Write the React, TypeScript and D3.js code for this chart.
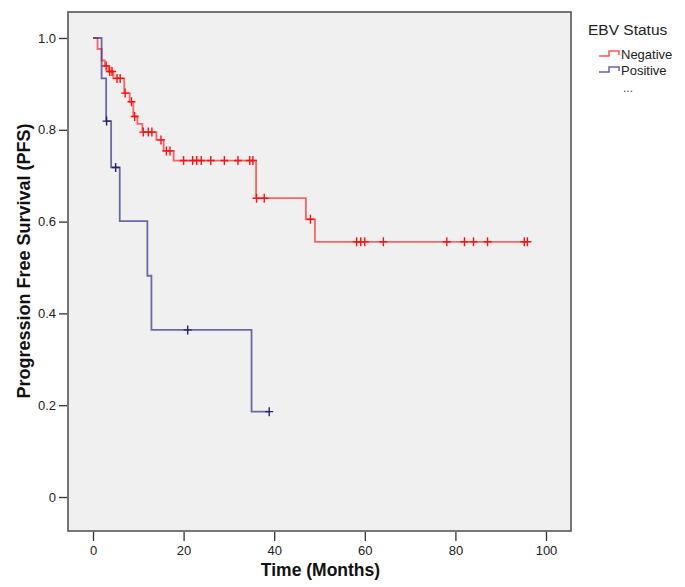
import React, { useEffect, useRef } from 'react';
import * as d3 from 'd3';

// Kaplan-Meier steps: [time of drop (months), survival after drop]
const negativeDrops: [number, number][] = [
  [1.0, 0.976], [1.9, 0.951], [2.6, 0.939], [3.4, 0.927], [4.5, 0.912],
  [6.9, 0.88], [8.1, 0.861], [8.9, 0.829], [9.8, 0.813], [10.9, 0.795],
  [14.0, 0.778], [15.6, 0.754], [17.8, 0.733], [36.0, 0.651], [47.0, 0.605],
  [49.0, 0.556],
];
const negativeCensored = [
  2.9, 3.7, 4.2, 5.3, 6.0, 7.1, 8.5, 9.2, 11.1, 12.2, 13.0, 15.0, 16.2, 17.0,
  20.0, 22.0, 22.9, 23.9, 26.0, 29.0, 32.0, 34.6, 35.3, 36.1, 37.8, 48.0,
  58.2, 59.1, 60.0, 64.1, 78.1, 82.0, 84.0, 87.1, 95.2, 95.9,
];

const positiveDrops: [number, number][] = [
  [1.9, 0.912], [2.9, 0.819], [4.0, 0.718], [5.9, 0.601], [12.0, 0.482],
  [12.9, 0.364], [35.0, 0.186],
];
const positiveCensored = [3.0, 5.0, 20.9, 38.9];

const groups = ['Negative', 'Positive'];
const xTicks = [0, 20, 40, 60, 80, 100];
const yTicks = [0, 0.2, 0.4, 0.6, 0.8, 1.0];

const App = () => {
  const svgRef = useRef<SVGSVGElement>(null);

  useEffect(() => {
    const width = 685;
    const height = 587;
    const frame = { left: 68, top: 12, right: 571, bottom: 531 };

    const svg = d3.select(svgRef.current);
    svg.selectAll('*').remove();
    svg.attr('width', width).attr('height', height);

    const x = d3.scaleLinear().domain([0, 100]).range([93, 546]);
    const y = d3.scaleLinear().domain([0, 1]).range([497, 38]);

    // plot background + frame
    svg
      .append('rect')
      .attr('x', frame.left)
      .attr('y', frame.top)
      .attr('width', frame.right - frame.left)
      .attr('height', frame.bottom - frame.top)
      .attr('fill', '#f0f0f0')
      .attr('stroke', '#555')
      .attr('stroke-width', 1.6);

    // axes
    const yAxis = svg
      .append('g')
      .attr('transform', `translate(${frame.left - 1}, 0)`)
      .call(
        d3
          .axisLeft(y)
          .tickValues(yTicks)
          .tickSize(8)
          .tickPadding(3)
          .tickFormat(d => (d === 0 ? '0' : d3.format('.1f')(d as number)))
      );
    yAxis.select('.domain').remove();
    yAxis.selectAll('line').attr('stroke', '#333').attr('stroke-width', 1.3);
    yAxis
      .selectAll('text')
      .attr('fill', '#222')
      .style('font-family', "'Liberation Sans', Arial, sans-serif")
      .style('font-size', '13px');

    const xAxis = svg
      .append('g')
      .attr('transform', `translate(0, ${frame.bottom + 1})`)
      .call(d3.axisBottom(x).tickValues(xTicks).tickSize(9).tickPadding(5));
    xAxis.select('.domain').remove();
    xAxis.selectAll('line').attr('stroke', '#333').attr('stroke-width', 1.3);
    xAxis
      .selectAll('text')
      .attr('fill', '#222')
      .style('font-family', "'Liberation Sans Narrow', 'Liberation Sans', Arial, sans-serif")
      .style('font-size', '13px');

    // axis titles
    svg
      .append('text')
      .attr('x', (frame.left + frame.right) / 2 + 1)
      .attr('y', 576)
      .attr('text-anchor', 'middle')
      .style('font-family', "'Liberation Sans', Arial, sans-serif")
      .style('font-size', '17.5px')
      .style('font-weight', 'bold')
      .attr('fill', '#111')
      .text('Time (Months)');

    svg
      .append('text')
      .attr('transform', 'rotate(-90)')
      .attr('x', -261)
      .attr('y', 30)
      .attr('text-anchor', 'middle')
      .style('font-family', "'Liberation Sans', Arial, sans-serif")
      .style('font-size', '18px')
      .style('font-weight', 'bold')
      .attr('fill', '#111')
      .text('Progression Free Survival (PFS)');

    const survivalAt = (drops: [number, number][], t: number) => {
      let s = 1;
      drops.forEach(([dt, ds]) => {
        if (dt <= t) s = ds;
      });
      return s;
    };

    const line = d3
      .line<[number, number]>()
      .x(d => x(d[0]))
      .y(d => y(d[1]))
      .curve(d3.curveStepAfter);

    const drawCurve = (
      drops: [number, number][],
      censored: number[],
      lineColor: string,
      markColor: string
    ) => {
      const end = d3.max(censored.concat(drops.map(d => d[0]))) as number;
      const pts: [number, number][] = [[0, 1], ...drops, [end, drops[drops.length - 1][1]]];
      svg
        .append('path')
        .attr('d', line(pts))
        .attr('fill', 'none')
        .attr('stroke', lineColor)
        .attr('stroke-width', 1.8);

      const marks = svg.append('g').attr('stroke', markColor).attr('stroke-width', 1.4);
      censored.forEach(t => {
        const cx = x(t);
        const cy = y(survivalAt(drops, t));
        marks
          .append('path')
          .attr('d', `M${cx - 4},${cy}H${cx + 4}M${cx},${cy - 4.5}V${cy + 4.5}`);
      });
    };

    drawCurve(negativeDrops, negativeCensored, 'rgba(255,40,40,0.7)', '#ff1010');
    drawCurve(positiveDrops, positiveCensored, 'rgba(60,60,140,0.75)', '#22226a');

    // legend
    const legend = svg.append('g').style('font-family', "'Liberation Sans', Arial, sans-serif");
    legend
      .append('text')
      .attr('x', 588)
      .attr('y', 35)
      .style('font-size', '15.5px')
      .attr('fill', '#222')
      .text('EBV Status');

    const legendColors = ['rgba(255,40,40,0.8)', 'rgba(60,60,140,0.8)'];
    groups.forEach((g, i) => {
      const ly = 56 + i * 16;
      legend
        .append('path')
        .attr('d', `M599,${ly}H609V${ly - 5}H619V${ly - 1}`)
        .attr('fill', 'none')
        .attr('stroke', legendColors[i])
        .attr('stroke-width', 1.5);
      legend
        .append('text')
        .attr('x', 621)
        .attr('y', ly + 3)
        .style('font-size', '13px')
        .attr('fill', '#222')
        .text(g);
    });
    legend
      .append('text')
      .attr('x', 623)
      .attr('y', 92)
      .style('font-size', '12px')
      .attr('fill', '#444')
      .text('...');
  }, []);

  return (
    <svg
      ref={svgRef}
      style={{ position: 'absolute', left: 0, top: 0, background: '#fff' }}
    ></svg>
  );
};

export default App;
